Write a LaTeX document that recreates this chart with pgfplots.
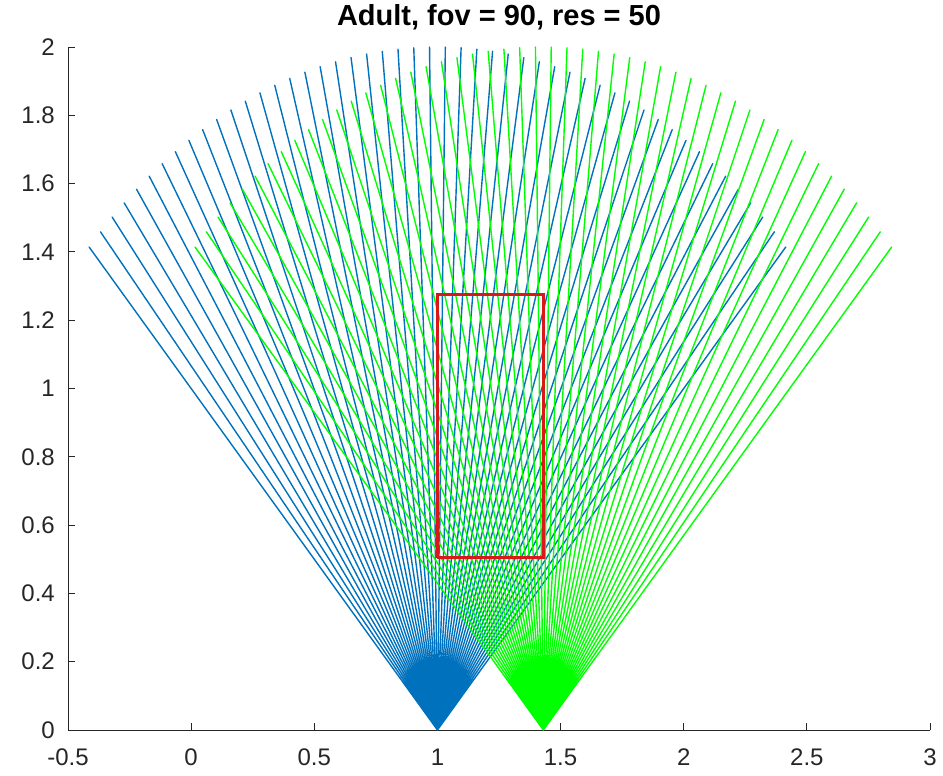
\documentclass[border=0pt]{standalone}
\usepackage{pgfplots}
\pgfplotsset{compat=1.18}
\usepackage{fontspec}
\setmainfont{Liberation Sans}
\definecolor{mblue}{rgb}{0,0.447,0.741}
\definecolor{mgreen}{rgb}{0,1,0}
\definecolor{axgray}{rgb}{0.15,0.15,0.15}
\begin{document}
\begin{tikzpicture}
\begin{axis}[
  name=ax, scale only axis, width=862pt, height=683pt,
  xmin=-0.5, xmax=3, ymin=0, ymax=2,
  axis lines=left,
  axis line style={-, draw=axgray, line width=0.8pt},
  tick align=inside, major tick length=7pt,
  tick style={axgray, line width=0.8pt},
  xtick={-0.5,0,0.5,1,1.5,2,2.5,3},
  xticklabels={-0.5,0,0.5,1,1.5,2,2.5,3},
  ytick={0,0.2,0.4,0.6,0.8,1,1.2,1.4,1.6,1.8,2},
  yticklabels={0,0.2,0.4,0.6,0.8,1,1.2,1.4,1.6,1.8,2},
  ticklabel style={font=\fontsize{24}{24}\selectfont, text=axgray},
  xticklabel style={anchor=north, inner sep=0pt, yshift=-19pt},
  yticklabel style={anchor=east, inner sep=0pt, xshift=-13pt},
  title={Adult, fov = 90, res = 50},
  title style={font=\fontsize{29}{29}\selectfont\bfseries, anchor=base, at={(0.5,1)}, yshift=15pt, text=black},
]
\addplot[mblue, line width=1.4pt, line join=round, mark=none] coordinates {
(1,0) (2.41421,1.41421) (1,0) (2.36816,1.45882) (1,0) (2.32070,1.50192) (1,0) (2.27188,1.54346)
(1,0) (2.22176,1.58346) (1,0) (2.17040,1.62180) (1,0) (2.11780,1.65848) (1,0) (2.06408,1.69346)
(1,0) (2.00924,1.72670) (1,0) (1.95336,1.75814) (1,0) (1.89654,1.78780) (1,0) (1.83878,1.81562)
(1,0) (1.78014,1.84156) (1,0) (1.72072,1.86564) (1,0) (1.66058,1.88778) (1,0) (1.59972,1.90796)
(1,0) (1.53824,1.92622) (1,0) (1.47624,1.94248) (1,0) (1.41374,1.95674) (1,0) (1.35080,1.96900)
(1,0) (1.28752,1.97924) (1,0) (1.22394,1.98742) (1,0) (1.16012,1.99356) (1,0) (1.09613,1.99769)
(1,0) (1.03206,1.99974) (1,0) (0.96794,1.99974) (1,0) (0.90387,1.99769) (1,0) (0.83988,1.99356)
(1,0) (0.77606,1.98742) (1,0) (0.71248,1.97924) (1,0) (0.64920,1.96900) (1,0) (0.58626,1.95674)
(1,0) (0.52376,1.94248) (1,0) (0.46176,1.92622) (1,0) (0.40028,1.90796) (1,0) (0.33942,1.88778)
(1,0) (0.27928,1.86564) (1,0) (0.21986,1.84156) (1,0) (0.16122,1.81562) (1,0) (0.10346,1.78780)
(1,0) (0.04664,1.75814) (1,0) (-0.00924,1.72670) (1,0) (-0.06408,1.69346) (1,0) (-0.11780,1.65848)
(1,0) (-0.17040,1.62180) (1,0) (-0.22176,1.58346) (1,0) (-0.27188,1.54346) (1,0) (-0.32070,1.50192)
(1,0) (-0.36816,1.45882) (1,0) (-0.41421,1.41421) (1,0)
};
\addplot[mgreen, line width=1.4pt, line join=round, mark=none] coordinates {
(1.43,0) (2.84421,1.41421) (1.43,0) (2.79816,1.45882) (1.43,0) (2.75070,1.50192) (1.43,0) (2.70188,1.54346)
(1.43,0) (2.65176,1.58346) (1.43,0) (2.60040,1.62180) (1.43,0) (2.54780,1.65848) (1.43,0) (2.49408,1.69346)
(1.43,0) (2.43924,1.72670) (1.43,0) (2.38336,1.75814) (1.43,0) (2.32654,1.78780) (1.43,0) (2.26878,1.81562)
(1.43,0) (2.21014,1.84156) (1.43,0) (2.15072,1.86564) (1.43,0) (2.09058,1.88778) (1.43,0) (2.02972,1.90796)
(1.43,0) (1.96824,1.92622) (1.43,0) (1.90624,1.94248) (1.43,0) (1.84374,1.95674) (1.43,0) (1.78080,1.96900)
(1.43,0) (1.71752,1.97924) (1.43,0) (1.65394,1.98742) (1.43,0) (1.59012,1.99356) (1.43,0) (1.52613,1.99769)
(1.43,0) (1.46206,1.99974) (1.43,0) (1.39794,1.99974) (1.43,0) (1.33387,1.99769) (1.43,0) (1.26988,1.99356)
(1.43,0) (1.20606,1.98742) (1.43,0) (1.14248,1.97924) (1.43,0) (1.07920,1.96900) (1.43,0) (1.01626,1.95674)
(1.43,0) (0.95376,1.94248) (1.43,0) (0.89176,1.92622) (1.43,0) (0.83028,1.90796) (1.43,0) (0.76942,1.88778)
(1.43,0) (0.70928,1.86564) (1.43,0) (0.64986,1.84156) (1.43,0) (0.59122,1.81562) (1.43,0) (0.53346,1.78780)
(1.43,0) (0.47664,1.75814) (1.43,0) (0.42076,1.72670) (1.43,0) (0.36592,1.69346) (1.43,0) (0.31220,1.65848)
(1.43,0) (0.25960,1.62180) (1.43,0) (0.20824,1.58346) (1.43,0) (0.15812,1.54346) (1.43,0) (0.10930,1.50192)
(1.43,0) (0.06184,1.45882) (1.43,0) (0.01579,1.41421) (1.43,0)
};
\addplot[color={rgb,1:red,0.85;green,0.1;blue,0.1}, line width=2.4pt, mark=none] coordinates {
(1,0.505) (1.43,0.505) (1.43,1.275) (1,1.275) (1,0.505)
};
\end{axis}
\pgfresetboundingbox
\path ([xshift=-68pt,yshift=-45pt]ax.south west) rectangle ([xshift=13pt,yshift=47pt]ax.north east);
\end{tikzpicture}
\end{document}
